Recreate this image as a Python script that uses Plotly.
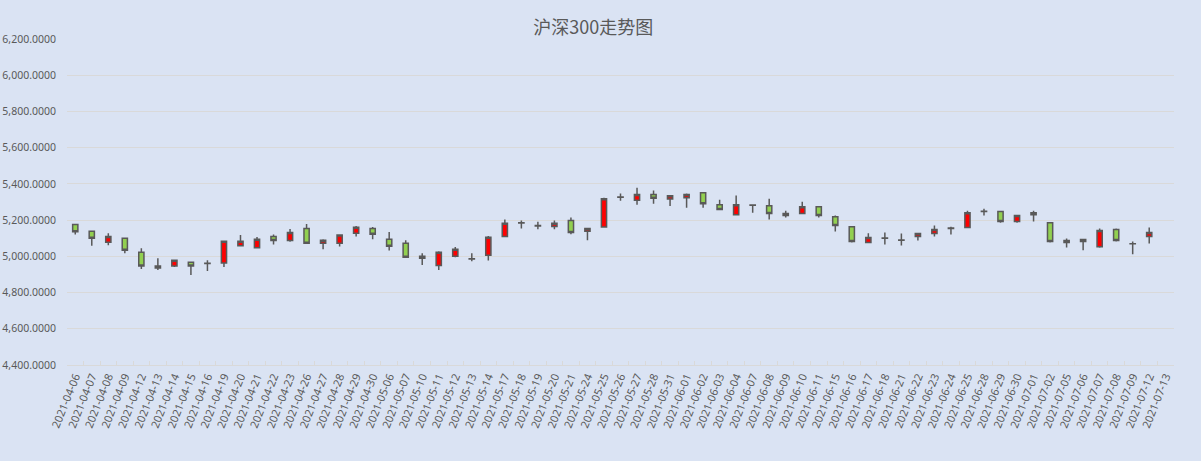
import plotly.graph_objects as go

dates = ['2021-04-06', '2021-04-07', '2021-04-08', '2021-04-09', '2021-04-12', '2021-04-13', '2021-04-14',
         '2021-04-15', '2021-04-16', '2021-04-19', '2021-04-20', '2021-04-21', '2021-04-22', '2021-04-23',
         '2021-04-26', '2021-04-27', '2021-04-28', '2021-04-29', '2021-04-30', '2021-05-06', '2021-05-07',
         '2021-05-10', '2021-05-11', '2021-05-12', '2021-05-13', '2021-05-14', '2021-05-17', '2021-05-18',
         '2021-05-19', '2021-05-20', '2021-05-21', '2021-05-24', '2021-05-25', '2021-05-26', '2021-05-27',
         '2021-05-28', '2021-05-31', '2021-06-01', '2021-06-02', '2021-06-03', '2021-06-04', '2021-06-07',
         '2021-06-08', '2021-06-09', '2021-06-10', '2021-06-11', '2021-06-15', '2021-06-16', '2021-06-17',
         '2021-06-18', '2021-06-21', '2021-06-22', '2021-06-23', '2021-06-24', '2021-06-25', '2021-06-28',
         '2021-06-29', '2021-06-30', '2021-07-01', '2021-07-02', '2021-07-05', '2021-07-06', '2021-07-07',
         '2021-07-08', '2021-07-09', '2021-07-12', '2021-07-13']

open_ = [5176, 5138, 5078, 5100, 5023, 4946, 4946, 4968, 4962, 4963, 5059, 5048, 5110, 5087,
         5154, 5072, 5072, 5127, 5154, 5094, 5072, 5001, 4950, 5001, 4987, 5006, 5110, 5184,
         5170, 5165, 5198, 5138, 5162, 5326, 5310, 5341, 5316, 5323, 5351, 5285, 5230, 5284,
         5279, 5226, 5236, 5274, 5219, 5164, 5077, 5101, 5090, 5110, 5126, 5154, 5159, 5247,
         5247, 5192, 5241, 5186, 5077, 5093, 5053, 5148, 5070, 5110, None]
high = [5177, 5139, 5127, 5100, 5045, 4990, 4983, 4968, 4979, 5084, 5118, 5107, 5120, 5151,
        5178, 5094, 5118, 5167, 5162, 5134, 5089, 5017, 5028, 5052, 5017, 5112, 5204, 5198,
        5191, 5198, 5215, 5155, 5323, 5347, 5378, 5363, 5334, 5347, 5351, 5312, 5336, 5284,
        5318, 5252, 5301, 5274, 5225, 5164, 5128, 5131, 5126, 5126, 5170, 5164, 5252, 5263,
        5247, 5230, 5252, 5186, 5099, 5093, 5153, 5153, 5082, 5159, None]
low = [5121, 5059, 5061, 5017, 4930, 4924, 4941, 4897, 4919, 4941, 5054, 5043, 5065, 5081,
       5072, 5039, 5054, 5109, 5094, 5032, 4995, 4952, 4924, 4995, 4973, 4977, 5110, 5154,
       5149, 5149, 5122, 5089, 5160, 5307, 5285, 5290, 5278, 5268, 5268, 5258, 5225, 5241,
       5203, 5214, 5235, 5214, 5137, 5077, 5077, 5066, 5060, 5088, 5110, 5120, 5159, 5225,
       5186, 5186, 5192, 5077, 5049, 5033, 5047, 5082, 5011, 5071, None]
close = [5136, 5100, 5110, 5034, 4946, 4935, 4979, 4946, 4960, 5083, 5083, 5094, 5087, 5132,
         5072, 5089, 5118, 5160, 5122, 5056, 4995, 4990, 5023, 5039, 4985, 5105, 5182, 5186,
         5168, 5182, 5132, 5154, 5318, 5328, 5342, 5321, 5334, 5341, 5290, 5258, 5285, 5282,
         5236, 5237, 5274, 5225, 5170, 5082, 5104, 5100, 5089, 5126, 5148, 5156, 5241, 5249,
         5192, 5225, 5230, 5082, 5088, 5082, 5142, 5088, 5069, 5131, None]

grey = '#595959'
bg = '#dae3f3'

fig = go.Figure(go.Candlestick(
    x=dates, open=open_, high=high, low=low, close=close,
    increasing=dict(fillcolor='#ff0000', line=dict(color=grey, width=1.5)),
    decreasing=dict(fillcolor='#92d050', line=dict(color=grey, width=1.5)),
    whiskerwidth=0,
    hoverinfo='x+y',
    showlegend=False
))

fig.update_layout(
    width=1201, height=461,
    paper_bgcolor=bg, plot_bgcolor=bg,
    margin=dict(l=67, r=27, t=39, b=96),
    boxgap=0.55,
    title=dict(text='沪深300走势图', x=0.494, xanchor='center', y=0.94, yanchor='middle',
               font=dict(family='Noto Sans CJK SC', size=18, color=grey)),
    font=dict(family='Noto Sans, DejaVu Sans', size=11, color=grey),
)

fig.update_xaxes(type='category', rangeslider_visible=False, tickangle=-68, automargin=False,
                 showgrid=False, showline=True, linecolor='#d9d9d9', linewidth=1,
                 tickson='boundaries', ticks='inside', ticklen=4, tickcolor='#d9d9d9',
                 tickfont=dict(size=11, color=grey))
fig.update_yaxes(range=[4400, 6200], dtick=200, tickformat=',.4f', showgrid=True, automargin=False,
                 gridcolor='#d9d9d9', gridwidth=1, zeroline=False, ticks='',
                 ticklabelstandoff=10, tickfont=dict(size=10.5, color=grey))

# page margin off so the 1201x461 figure fills the window
fig.write_html("out.html", config={'displayModeBar': False},
               post_script="document.body.style.margin='0';document.body.style.background='#dae3f3';"
                           "document.body.style.overflow='hidden';")
